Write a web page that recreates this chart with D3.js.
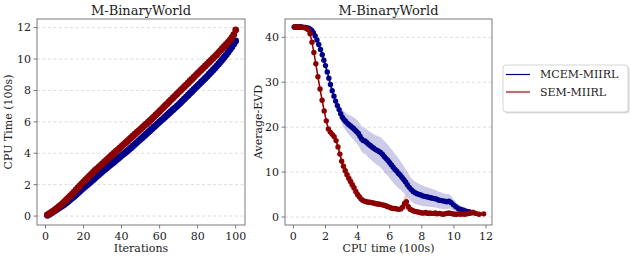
<!DOCTYPE html>
<html>
<head>
<meta charset="utf-8">
<script src="https://cdn.jsdelivr.net/npm/d3@7"></script>
<style>
  body { margin: 0; background: #fff; }
  text { font-family: "DejaVu Serif", serif; fill: #222; }
</style>
</head>
<body>
<svg id="main" width="631" height="256"></svg>
<script>
// series names
const seriesNames = ['MCEM-MIIRL', 'SEM-MIIRL'];
const xTicksLeft = [0, 20, 40, 60, 80, 100];
const yTicksLeft = [0, 2, 4, 6, 8, 10, 12];
const xTicksRight = [0, 2, 4, 6, 8, 10, 12];
const yTicksRight = [0, 10, 20, 30, 40];

// cumulative CPU time (100s) per iteration
const mcemCpu = [
  0.05, 0.12, 0.19, 0.27, 0.35, 0.43, 0.51, 0.59, 0.67, 0.75,
  0.85, 0.95, 1.05, 1.15, 1.25, 1.36, 1.47, 1.58, 1.69, 1.80,
  1.90, 2.00, 2.11, 2.21, 2.31, 2.42, 2.53, 2.63, 2.74, 2.85,
  2.95, 3.05, 3.15, 3.25, 3.35, 3.45, 3.55, 3.65, 3.75, 3.85,
  3.95, 4.05, 4.15, 4.25, 4.35, 4.46, 4.57, 4.68, 4.79, 4.90,
  5.01, 5.12, 5.23, 5.34, 5.45, 5.56, 5.67, 5.78, 5.89, 6.00,
  6.11, 6.22, 6.33, 6.44, 6.55, 6.66, 6.77, 6.88, 6.99, 7.10,
  7.22, 7.34, 7.46, 7.58, 7.70, 7.82, 7.94, 8.06, 8.18, 8.30,
  8.42, 8.54, 8.66, 8.78, 8.90, 9.03, 9.16, 9.29, 9.42, 9.55,
  9.69, 9.83, 9.97, 10.12, 10.27, 10.43, 10.60, 10.77, 10.95, 11.15
];
const semCpu = [
  0.08, 0.15, 0.23, 0.31, 0.40, 0.50, 0.60, 0.70, 0.81, 0.92,
  1.04, 1.16, 1.28, 1.40, 1.53, 1.66, 1.79, 1.92, 2.05, 2.18,
  2.30, 2.42, 2.54, 2.66, 2.78, 2.90, 3.01, 3.12, 3.23, 3.34,
  3.45, 3.56, 3.67, 3.78, 3.89, 4.00, 4.11, 4.22, 4.33, 4.44,
  4.55, 4.66, 4.77, 4.88, 4.99, 5.10, 5.21, 5.32, 5.43, 5.54,
  5.65, 5.76, 5.87, 5.98, 6.09, 6.20, 6.32, 6.44, 6.56, 6.68,
  6.80, 6.92, 7.04, 7.16, 7.28, 7.40, 7.52, 7.64, 7.76, 7.88,
  8.00, 8.12, 8.24, 8.36, 8.48, 8.60, 8.72, 8.84, 8.96, 9.08,
  9.20, 9.32, 9.44, 9.56, 9.68, 9.80, 9.92, 10.04, 10.16, 10.28,
  10.41, 10.54, 10.67, 10.80, 10.93, 11.06, 11.20, 11.36, 11.56, 11.85
];

// average EVD per iteration
const mcemEvd = [
  42.3, 42.3, 42.3, 42.3, 42.3, 42.3, 42.3, 42.2, 42.2, 42.2,
  42.1, 42.0, 41.8, 41.5, 41.0, 40.3, 39.4, 38.4, 37.3, 36.1,
  34.9, 33.7, 32.3, 30.9, 29.5, 28.1, 26.9, 25.8, 24.8, 23.9,
  23.0, 22.2, 21.7, 21.3, 20.9, 20.6, 20.3, 20.0, 19.7, 19.3,
  19.0, 18.6, 18.0, 17.4, 17.0, 16.9, 16.6, 16.2, 15.9, 15.6,
  15.3, 15.0, 14.8, 14.6, 14.3, 13.9, 13.4, 13.0, 12.6, 12.1,
  11.6, 11.1, 10.6, 10.2, 9.7, 9.3, 8.8, 8.3, 7.8, 7.2,
  6.6, 6.1, 5.7, 5.4, 5.2, 5.0, 4.9, 4.7, 4.6, 4.5,
  4.4, 4.3, 4.2, 4.1, 4.0, 3.8, 3.7, 3.6, 3.5, 3.4,
  3.5, 3.2, 2.7, 2.3, 1.9, 1.7, 1.5, 1.3, 1.2, 1.0
];
const semEvd = [
  42.3, 42.3, 42.3, 42.3, 42.3, 42.2, 42.2, 42.1, 42.0, 41.7,
  40.8, 38.9, 36.6, 34.1, 31.2, 28.5, 26.0, 23.6, 21.4, 19.6,
  18.9, 18.4, 17.9, 17.0, 15.6, 14.0, 12.4, 11.3, 10.3, 9.4,
  8.6, 7.9, 7.2, 6.5, 5.7, 5.0, 4.5, 4.0, 3.7, 3.5,
  3.4, 3.3, 3.3, 3.2, 3.1, 3.0, 2.9, 2.9, 2.8, 2.7,
  2.6, 2.5, 2.3, 2.2, 2.0, 1.9, 1.9, 1.8, 1.7, 1.8,
  2.2, 3.0, 3.4, 2.3, 1.7, 1.5, 1.3, 1.2, 1.1, 1.0,
  0.9, 0.9, 1.0, 0.8, 0.9, 0.8, 0.8, 0.9, 0.7, 0.8,
  0.7, 0.6, 0.7, 0.8, 0.9, 0.8, 0.7, 0.6, 0.6, 0.7,
  0.6, 0.7, 0.6, 0.7, 0.8, 0.9, 1.0, 0.8, 0.6, 0.7
];

// spread of EVD across runs (half width of shaded band)
const mcemStd = [
  0.3, 0.3, 0.3, 0.3, 0.3, 0.3, 0.3, 0.3, 0.3, 0.3,
  0.3, 0.3, 0.4, 0.5, 0.6, 0.7, 0.8, 0.9, 1.0, 1.0,
  1.0, 1.0, 1.0, 1.0, 1.0, 1.0, 1.0, 1.1, 1.2, 1.3,
  1.5, 1.7, 1.9, 2.0, 2.1, 2.2, 2.3, 2.4, 2.5, 2.6,
  2.7, 2.7, 2.8, 2.8, 2.8, 2.9, 2.9, 3.0, 3.0, 3.1,
  3.1, 3.2, 3.3, 3.3, 3.4, 3.4, 3.5, 3.5, 3.5, 3.5,
  3.5, 3.5, 3.4, 3.4, 3.3, 3.2, 3.1, 3.0, 2.9, 2.8,
  2.7, 2.6, 2.5, 2.5, 2.4, 2.4, 2.3, 2.3, 2.2, 2.2,
  2.1, 2.1, 2.0, 2.0, 1.9, 1.9, 1.8, 1.8, 1.7, 1.7,
  1.6, 1.5, 1.3, 1.1, 0.9, 0.8, 0.7, 0.6, 0.5, 0.4
];
const semStd = [
  0.2, 0.2, 0.2, 0.2, 0.2, 0.2, 0.2, 0.2, 0.2, 0.2,
  0.3, 0.4, 0.5, 0.6, 0.7, 0.8, 0.8, 0.8, 0.8, 0.7,
  0.7, 0.7, 0.8, 0.9, 1.0, 1.0, 1.1, 1.2, 1.3, 1.4,
  1.5, 1.6, 1.6, 1.5, 1.3, 1.0, 0.8, 0.6, 0.5, 0.5,
  0.4, 0.4, 0.4, 0.4, 0.4, 0.4, 0.4, 0.4, 0.4, 0.4,
  0.4, 0.4, 0.4, 0.4, 0.3, 0.3, 0.3, 0.3, 0.4, 0.6,
  1.0, 1.5, 1.8, 1.2, 0.6, 0.4, 0.3, 0.3, 0.3, 0.3,
  0.3, 0.3, 0.3, 0.3, 0.3, 0.3, 0.3, 0.3, 0.3, 0.3,
  0.3, 0.3, 0.3, 0.3, 0.3, 0.3, 0.3, 0.3, 0.3, 0.3,
  0.3, 0.3, 0.3, 0.3, 0.3, 0.3, 0.3, 0.3, 0.3, 0.3
];

const colors = ['#00008b', '#8b0000'];
const bandColors = ['rgba(0,0,139,0.2)', 'rgba(139,0,0,0.2)'];

let svg = d3.select('#main');

function drawAxes(g, x, y, xTicks, yTicks, frame, title, xLabel, yLabel, yLabelX) {
  // grid
  g.append('g').selectAll('line').data(yTicks).join('line')
    .attr('x1', frame.x0).attr('x2', frame.x1)
    .attr('y1', d => y(d)).attr('y2', d => y(d))
    .style('stroke', '#d4d4d4').style('stroke-width', 0.8)
    .style('stroke-dasharray', '3,2.5');

  // frame
  g.append('rect')
    .attr('x', frame.x0).attr('y', frame.y0)
    .attr('width', frame.x1 - frame.x0).attr('height', frame.y1 - frame.y0)
    .style('fill', 'none').style('stroke', '#5a5a5a').style('stroke-width', 0.8);

  // x ticks
  let xt = g.append('g').selectAll('g').data(xTicks).join('g')
    .attr('transform', d => `translate(${x(d)},${frame.y1})`);
  xt.append('line').attr('y2', 3.5).style('stroke', '#5a5a5a').style('stroke-width', 0.8);
  xt.append('text').attr('y', 15).attr('text-anchor', 'middle')
    .style('font-size', '11px').text(d => d);

  // y ticks
  let yt = g.append('g').selectAll('g').data(yTicks).join('g')
    .attr('transform', d => `translate(${frame.x0},${y(d)})`);
  yt.append('line').attr('x2', -3.5).style('stroke', '#5a5a5a').style('stroke-width', 0.8);
  yt.append('text').attr('x', -6).attr('dy', '0.35em').attr('text-anchor', 'end')
    .style('font-size', '11px').text(d => d);

  g.append('text').attr('x', (frame.x0 + frame.x1) / 2).attr('y', 15)
    .attr('text-anchor', 'middle').style('font-size', '13px').text(title);
  g.append('text').attr('x', (frame.x0 + frame.x1) / 2).attr('y', 252)
    .attr('text-anchor', 'middle').style('font-size', '11px').text(xLabel);
  g.append('text')
    .attr('transform', `translate(${yLabelX},${(frame.y0 + frame.y1) / 2}) rotate(-90)`)
    .attr('text-anchor', 'middle').style('font-size', '11px').text(yLabel);
}

// ---------- left panel: CPU time vs iterations
let fL = { x0: 37, x1: 245, y0: 19, y1: 225 };
let xL = d3.scaleLinear().domain([-4.5, 104.9]).range([fL.x0, fL.x1]);
let yL = d3.scaleLinear().domain([-0.57, 12.55]).range([fL.y1, fL.y0]);
let left = svg.append('g');
drawAxes(left, xL, yL, xTicksLeft, yTicksLeft, fL, 'M-BinaryWorld', 'Iterations', 'CPU Time (100s)', 12);

[mcemCpu, semCpu].forEach((arr, k) => {
  let pts = arr.map((v, i) => [i + 1, v]);
  left.append('path').datum(pts)
    .attr('d', d3.line().x(d => xL(d[0])).y(d => yL(d[1])))
    .style('fill', 'none').style('stroke', colors[k]).style('stroke-width', 1.5);
  left.append('g').selectAll('circle').data(pts).join('circle')
    .attr('cx', d => xL(d[0])).attr('cy', d => yL(d[1])).attr('r', 3.4)
    .style('fill', colors[k]);
});

// ---------- right panel: EVD vs CPU time
let fR = { x0: 285, x1: 492, y0: 19, y1: 225 };
let xR = d3.scaleLinear().domain([-0.52, 12.37]).range([fR.x0, fR.x1]);
let yR = d3.scaleLinear().domain([-1.78, 44.07]).range([fR.y1, fR.y0]);
let right = svg.append('g');
drawAxes(right, xR, yR, xTicksRight, yTicksRight, fR, 'M-BinaryWorld', 'CPU time (100s)', 'Average-EVD', 262);

[[mcemCpu, mcemEvd, mcemStd], [semCpu, semEvd, semStd]].forEach(([cpu, evd, sd], k) => {
  let pts = cpu.map((t, i) => ({ t: t, v: evd[i], s: sd[i] }));
  right.append('path').datum(pts)
    .attr('d', d3.area().x(d => xR(d.t)).y0(d => yR(d.v - d.s)).y1(d => yR(d.v + d.s)))
    .style('fill', bandColors[k]);
  right.append('path').datum(pts)
    .attr('d', d3.line().x(d => xR(d.t)).y(d => yR(d.v)))
    .style('fill', 'none').style('stroke', colors[k]).style('stroke-width', 1.5);
  right.append('g').selectAll('circle').data(pts).join('circle')
    .attr('cx', d => xR(d.t)).attr('cy', d => yR(d.v)).attr('r', 2.7)
    .style('fill', colors[k]);
});

// ---------- legend
let lg = svg.append('g').attr('transform', 'translate(503,65)');
lg.append('rect').attr('x', 1.5).attr('y', 1.5).attr('width', 125).attr('height', 47).attr('rx', 3)
  .style('fill', '#dcdcdc');
lg.append('rect').attr('width', 125).attr('height', 47).attr('rx', 3)
  .style('fill', 'white').style('stroke', '#cccccc').style('stroke-width', 0.8);
let legendColors = ['#00008b', '#bf6f6f'];
let legendWidths = [1.2, 2.2];
seriesNames.forEach((name, i) => {
  let yy = 9.5 + i * 17.5;
  lg.append('line').attr('x1', 3).attr('x2', 27).attr('y1', yy).attr('y2', yy)
    .style('stroke', legendColors[i]).style('stroke-width', legendWidths[i]);
  lg.append('text').attr('x', 37).attr('y', yy).attr('dy', '0.35em')
    .style('font-size', '11px').text(name);
});
</script>
</body>
</html>
